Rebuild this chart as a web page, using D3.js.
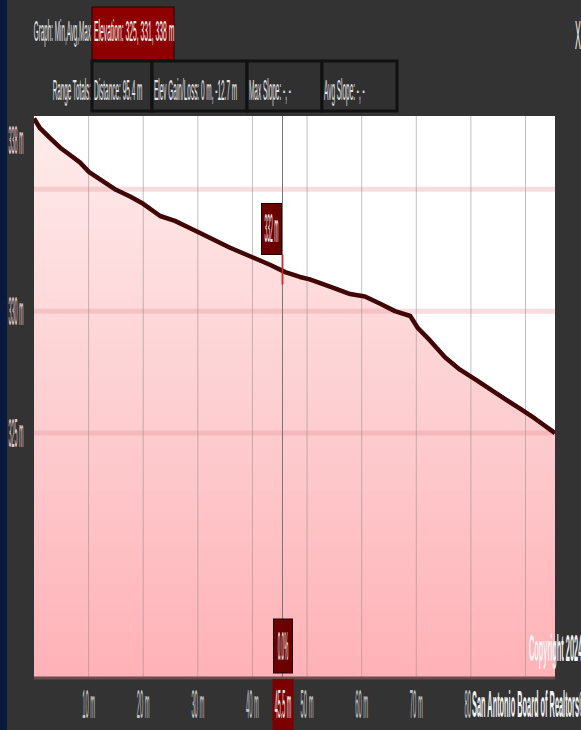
<!DOCTYPE html>
<html>
<head>
<meta charset="utf-8">
<script src="https://cdn.jsdelivr.net/npm/d3@7"></script>
<style>
  html, body { margin: 0; padding: 0; background: #333; }
  svg { display: block; font-family: "Liberation Sans", Arial, sans-serif; }
</style>
</head>
<body>
<svg width="581" height="730"></svg>
<script>
// elevation profile (distance in m, elevation in m)
var distance = [0, 1.1, 2.9, 4.8, 6.6, 8.4, 10.1, 12.1, 14.8, 17.6, 20.0, 23.1, 25.8, 28.6, 30.4,
  35.9, 40.1, 43.2, 46.0, 48.7, 50.5, 54.2, 57.9, 60.6, 63.4, 66.1, 68.9, 70.3, 72.5, 75.3,
  78.0, 80.8, 83.5, 86.2, 89.0, 91.7, 95.4];
var elevation = [337.9, 337.5, 337.1, 336.7, 336.4, 336.1, 335.7, 335.4, 335.0, 334.7, 334.4, 333.9, 333.7, 333.4, 333.2,
  332.6, 332.2, 331.9, 331.6, 331.4, 331.3, 331.0, 330.7, 330.6, 330.3, 330.0, 329.8, 329.3, 328.8, 328.1,
  327.6, 327.2, 326.8, 326.4, 326.0, 325.6, 325.0];

var elevStats = [325, 331, 338]; // min, avg, max
var rangeTotals = ["Distance: 95.4 m", "Elev Gain/Loss: 0 m, -12.7 m", "Max Slope: -, -", "Avg Slope: -, -"];
var xTicks = [10, 20, 30, 40, 50, 60, 70, 80, 90];
var xLabels = [10, 20, 30, 40, 50, 60, 70, 80];
var yTicks = [330, 325];
var yGrid = [335, 330, 325];
var cursorDist = 45.5, cursorElev = 332, cursorSlope = "0.0%";

var svg = d3.select("svg"),
  W = 581, H = 730,
  plot = { l: 34, r: 555, t: 116, b: 677 };

var x = d3.scaleLinear().domain([0, 95.4]).range([plot.l, plot.r]);
var y = d3.scaleLinear().domain([315, 338]).range([plot.b, plot.t]);

// squeezed text, the screenshot is very condensed
function label(g, px, py, s, size, sx, fill, anchor, weight) {
  return g.append("text")
    .attr("transform", "translate(" + px + "," + py + ") scale(" + sx + ",1)")
    .attr("font-size", size)
    .attr("fill", fill)
    .attr("text-anchor", anchor || "start")
    .attr("font-weight", weight || "normal")
    .text(s);
}

svg.append("rect").attr("width", W).attr("height", H).attr("fill", "#333");
svg.append("rect").attr("width", 7).attr("height", H).attr("fill", "#071a3e");

// header rows
var head = svg.append("g");
label(head, 91, 41, "Graph: Min,Avg,Max", 30, 0.21, "#e4e4e4", "end");
head.append("rect").attr("x", 92).attr("y", 7).attr("width", 82).attr("height", 53)
  .attr("fill", "#8e0000").attr("stroke", "#2a0000").attr("stroke-width", 1);
label(head, 94, 41, "Elevation: " + elevStats.join(", ") + " m", 30, 0.225, "#f4f4f4");

label(head, 91, 100, "Range Totals:", 30, 0.21, "#e4e4e4", "end");
var cellEdges = [92, 152, 247, 322, 397];
rangeTotals.forEach(function (t, i) {
  head.append("rect").attr("x", cellEdges[i]).attr("y", 61)
    .attr("width", cellEdges[i + 1] - cellEdges[i]).attr("height", 50)
    .attr("fill", "#303030").attr("stroke", "#111").attr("stroke-width", 3);
  label(head, cellEdges[i] + 2, 100, t, 30, 0.215, "#e4e4e4");
});
label(head, 575, 49, "X", 40, 0.22, "#f0f0f0");

// plot
var defs = svg.append("defs");
var grad = defs.append("linearGradient").attr("id", "pinkFill")
  .attr("gradientUnits", "userSpaceOnUse")
  .attr("x1", 0).attr("x2", 0).attr("y1", plot.t).attr("y2", plot.b);
grad.append("stop").attr("offset", 0).attr("stop-color", "#ffecec");
grad.append("stop").attr("offset", 0.5).attr("stop-color", "#fdd0d2");
grad.append("stop").attr("offset", 1).attr("stop-color", "#ffb2b7");
defs.append("clipPath").attr("id", "clip").append("rect")
  .attr("x", plot.l).attr("y", plot.t).attr("width", plot.r - plot.l).attr("height", plot.b - plot.t);

var g = svg.append("g").attr("clip-path", "url(#clip)");
var pts = distance.map(function (d, i) { return [d, elevation[i]]; });

g.append("rect").attr("x", plot.l).attr("y", plot.t)
  .attr("width", plot.r - plot.l).attr("height", plot.b - plot.t).attr("fill", "#fff");

g.append("path").datum(pts)
  .attr("fill", "url(#pinkFill)")
  .attr("d", d3.area().x(function (d) { return x(d[0]); }).y0(plot.b).y1(function (d) { return y(d[1]); }));

g.selectAll(".hgrid").data(yGrid).enter().append("line")
  .attr("x1", plot.l).attr("x2", plot.r)
  .attr("y1", function (d) { return y(d); }).attr("y2", function (d) { return y(d); })
  .attr("stroke", "#e08e96").attr("stroke-opacity", 0.3).attr("stroke-width", 5);

g.selectAll(".vgrid").data(xTicks).enter().append("line")
  .attr("x1", function (d) { return x(d); }).attr("x2", function (d) { return x(d); })
  .attr("y1", plot.t).attr("y2", plot.b)
  .attr("stroke", "#9a8a8a").attr("stroke-opacity", 0.55).attr("stroke-width", 1);

g.append("path").datum(pts)
  .attr("fill", "none").attr("stroke", "#400505").attr("stroke-width", 4.5)
  .attr("stroke-linejoin", "round")
  .attr("d", d3.line().x(function (d) { return x(d[0]); }).y(function (d) { return y(d[1]); }));

// cursor
var cx = x(cursorDist);
var cy = y(d3.interpolateNumber(
  elevation[d3.bisectLeft(distance, cursorDist) - 1],
  elevation[d3.bisectLeft(distance, cursorDist)])(0.5));
g.append("line").attr("x1", cx).attr("x2", cx).attr("y1", plot.t).attr("y2", plot.b)
  .attr("stroke", "#777").attr("stroke-width", 1);
g.append("line").attr("x1", cx).attr("x2", cx).attr("y1", cy - 14).attr("y2", cy + 16)
  .attr("stroke", "#e01010").attr("stroke-opacity", 0.75).attr("stroke-width", 2);
g.append("rect").attr("x", cx - 21).attr("y", cy - 65).attr("width", 20).attr("height", 51)
  .attr("fill", "#6c0000").attr("stroke", "#1a0000").attr("stroke-width", 1);
label(g, cx - 11, cy - 26, cursorElev + " m", 40, 0.125, "#f4f4f4", "middle");

g.append("rect").attr("x", cx - 9).attr("y", plot.b - 58).attr("width", 19).attr("height", 54)
  .attr("fill", "#6a0000").attr("stroke", "#1a0000").attr("stroke-width", 1);
label(g, cx + 0.5, plot.b - 17, cursorSlope, 40, 0.115, "#f4f4f4", "middle");

svg.append("line").attr("x1", plot.l).attr("x2", plot.r).attr("y1", plot.b + 1).attr("y2", plot.b + 1)
  .attr("stroke", "#6a4a4c").attr("stroke-width", 3);

// axes labels
var axis = svg.append("g");
xLabels.forEach(function (t) {
  label(axis, x(t), 718, t + " m", 40, 0.145, "#c4c4c4", "middle");
});
label(axis, 16, y(elevStats[2]) + 38, elevStats[2] + " m", 40, 0.135, "#e6caca", "middle");
yTicks.forEach(function (t) {
  label(axis, 16, y(t) + 14, t + " m", 40, 0.135, "#e6caca", "middle");
});

axis.append("rect").attr("x", cx - 10).attr("y", plot.b + 2).attr("width", 21).attr("height", H - plot.b)
  .attr("fill", "#7c0000");
label(axis, cx + 0.5, 718, cursorDist + " m", 40, 0.135, "#f4f4f4", "middle");

// watermark
axis.append("rect").attr("x", 472).attr("y", plot.b + 3).attr("width", W - 472).attr("height", H - plot.b - 3)
  .attr("fill", "#333");
label(axis, 472, 717, "San Antonio Board of Realtors\u00a9", 36, 0.205, "#f4f4f4", "start", "bold");
label(axis, 529, 661, "Copyright 2024", 36, 0.205, "#f4f4f4", "start", "bold");
</script>
</body>
</html>
